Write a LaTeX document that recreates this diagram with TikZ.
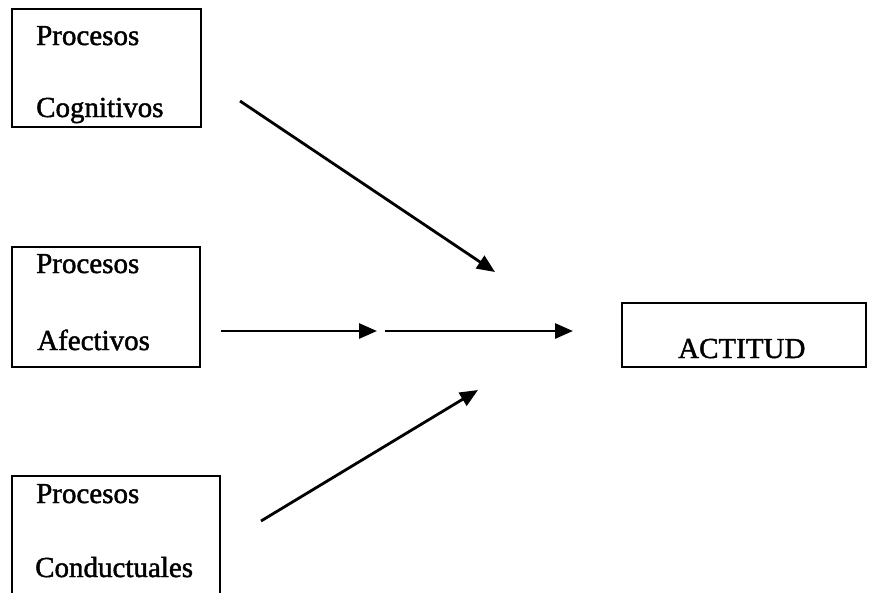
\documentclass[tikz,border=0pt]{standalone}
\usepackage{fontspec}
\setmainfont{Liberation Serif}[FakeBold=1.5]
\usetikzlibrary{arrows.meta}
\begin{document}
\begin{tikzpicture}[x=1pt,y=-1pt,
  box/.style={draw, line width=2.2pt, inner sep=0pt, outer sep=0pt},
  lbl/.style={anchor=base west, inner sep=0pt, font=\fontsize{29}{29}\selectfont},
  arr/.style={line width=2.8pt, -{Triangle[length=18pt,width=15pt]}}]
\useasboundingbox (0,0) rectangle (869,592);
\clip (0,0) rectangle (869,592);
% boxes
\node[box, minimum width=189pt, minimum height=118pt] (cog) at (106.5,68) {};
\node[box, minimum width=188pt, minimum height=120pt] (afe) at (106,307) {};
\node[box, minimum width=208pt, minimum height=144pt] (con) at (116,548) {};
\node[box, minimum width=244pt, minimum height=64pt] (act) at (744,335) {};
% labels
\node[lbl] (cog1) at (36,45) {Procesos};
\node[lbl] (cog2) at (36,117) {Cognitivos};
\node[lbl] (afe1) at (36,273) {Procesos};
\node[lbl] (afe2) at (37,350) {Afectivos};
\node[lbl] (con1) at (36,503) {Procesos};
\node[lbl] (con2) at (35,577) {Conductuales};
\node[lbl] (actl) at (678,358) {ACTITUD};
% arrow end points
\coordinate (c1s) at (240,101);
\coordinate (c1e) at (495,272);
\coordinate (h1s) at (221,331);
\coordinate (h1e) at (377,331);
\coordinate (h2s) at (385,331);
\coordinate (h2e) at (573,331);
\coordinate (c3s) at (261,521);
\coordinate (c3e) at (478,390);
% arrows
\draw[arr] (c1s) -- (c1e);
\draw[arr] (h1s) -- (h1e);
\draw[arr] (h2s) -- (h2e);
\draw[arr] (c3s) -- (c3e);
\end{tikzpicture}
\end{document}
